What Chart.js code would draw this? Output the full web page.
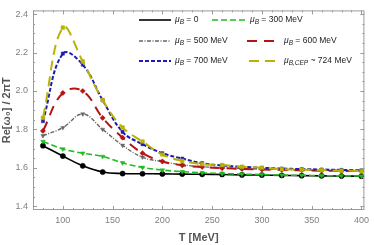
<!DOCTYPE html>
<html><head><meta charset="utf-8">
<script src="https://cdn.jsdelivr.net/npm/chart.js@4.4.1/dist/chart.umd.min.js"></script>
<style>html,body{margin:0;padding:0;background:#fff}#wrap{width:374px;height:245px}</style>
</head><body><div id="wrap"><canvas id="c" width="374" height="245"></canvas></div>
<script>
const temps = [80,100,120,140,160,180,200,220,240,260,280,300,320,340,360,380,400];
const mu0   = [1.715,1.661,1.610,1.578,1.570,1.569,1.568,1.567,1.566,1.565,1.563,1.562,1.560,1.559,1.558,1.557,1.556];
const mu300 = [1.737,1.698,1.676,1.659,1.626,1.602,1.588,1.580,1.574,1.570,1.567,1.565,1.562,1.561,1.559,1.558,1.557];
const mu500 = [1.767,1.809,1.880,1.800,1.717,1.655,1.632,1.615,1.606,1.600,1.596,1.593,1.591,1.589,1.587,1.586,1.585];
const mu600 = [1.792,1.990,2.000,1.860,1.757,1.676,1.633,1.613,1.604,1.598,1.594,1.591,1.589,1.587,1.585,1.584,1.583];
const mu700 = [1.843,2.195,2.137,1.952,1.787,1.723,1.676,1.648,1.624,1.612,1.605,1.600,1.596,1.593,1.591,1.589,1.587];
const muCEP = [1.860,2.330,2.154,1.952,1.810,1.737,1.669,1.636,1.619,1.614,1.605,1.600,1.593,1.590,1.588,1.585,1.583];
const xTicks = [100,150,200,250,300,350,400];
const yTicks = [1.4,1.6,1.8,2.0,2.2,2.4];
const legendLabels = [
  {sub:'B', rest:' = 0'},
  {sub:'B', rest:' = 300 MeV'},
  {sub:'B', rest:' = 500 MeV'},
  {sub:'B', rest:' = 600 MeV'},
  {sub:'B', rest:' = 700 MeV'},
  {sub:'B,CEP', rest:' ~ 724 MeV'}
];

const styles = [
  {color:'#000000', dash:[], width:1.6, pt:'circle', r:2.6},
  {color:'#22bb22', dash:[6,3], width:1.6, pt:'triangle', r:2.6, rot:180},
  {color:'#666666', dash:[4,1.5,1,1.5], width:1.4, pt:'triangle', r:2.4, rot:180},
  {color:'#b51414', dash:[10,7], width:2, pt:'rectRot', r:2.6},
  {color:'#1c1cb4', dash:[4,2], width:2, pt:'rect', r:2.2},
  {color:'#b9b200', dash:[10,6], width:2, pt:'rect', r:2.6}
];
const series = [mu0, mu300, mu500, mu600, mu700, muCEP];

const datasets = series.map((s,i)=>({
  label: 'μB' + legendLabels[i].rest,
  data: temps.map((t,j)=>({x:t, y:s[j]})),
  borderColor: styles[i].color,
  backgroundColor: styles[i].color,
  borderDash: styles[i].dash,
  borderWidth: styles[i].width,
  pointStyle: styles[i].pt,
  pointRotation: styles[i].rot || 0,
  pointRadius: styles[i].r,
  pointBorderWidth: 0.5,
  tension: 0.4,
  fill: false
})).reverse();

const frameTicks = {
  id:'frameTicks',
  afterDraw(chart){
    const {ctx, chartArea:a, scales:{x,y}} = chart;
    ctx.save();
    ctx.strokeStyle = '#9a9a9a';
    ctx.lineWidth = 1;
    ctx.strokeRect(a.left+0.5, a.top+0.5, a.right-a.left-1, a.bottom-a.top-1);
    ctx.beginPath();
    for (let v=70; v<=403; v+=10){
      const px = Math.round(x.getPixelForValue(v))+0.5;
      const L = (v%50===0)?4:2;
      ctx.moveTo(px,a.bottom); ctx.lineTo(px,a.bottom-L);
      ctx.moveTo(px,a.top); ctx.lineTo(px,a.top+L);
    }
    for (let k=28; k<=48; k++){
      const v = k*0.05;
      const py = Math.round(y.getPixelForValue(v))+0.5;
      if (py < a.top || py > a.bottom) continue;
      const L = (k%4===0)?4:2;
      ctx.moveTo(a.left,py); ctx.lineTo(a.left+L,py);
      ctx.moveTo(a.right,py); ctx.lineTo(a.right-L,py);
    }
    ctx.stroke();
    ctx.restore();
  }
};

const legendPos = [
  {x0:139,x1:171,tx:175,y:20},{x0:212,x1:245,tx:250,y:20},
  {x0:139,x1:171,tx:175,y:41},{x0:247,x1:279,tx:284,y:41},
  {x0:139,x1:171,tx:175,y:61},{x0:249,x1:278,tx:284,y:61}
];
const customLegend = {
  id:'customLegend',
  afterDraw(chart){
    const ctx = chart.ctx;
    ctx.save();
    legendLabels.forEach((lab,i)=>{
      const p = legendPos[i], yy = p.y;
      const st = styles[i];
      ctx.strokeStyle = st.color; ctx.lineWidth = st.width; ctx.setLineDash(st.dash);
      ctx.beginPath(); ctx.moveTo(p.x0, yy); ctx.lineTo(p.x1, yy); ctx.stroke();
      ctx.setLineDash([]);
      ctx.fillStyle = '#222';
      ctx.textBaseline = 'middle';
      let tx = p.tx;
      ctx.font = 'italic 8.5px "Liberation Sans", Arial, sans-serif';
      ctx.fillText('μ', tx, yy); tx += ctx.measureText('μ').width;
      ctx.font = 'italic 6.5px "Liberation Sans", Arial, sans-serif';
      ctx.fillText(lab.sub, tx, yy+2.5); tx += ctx.measureText(lab.sub).width;
      ctx.font = '8.5px "Liberation Sans", Arial, sans-serif';
      ctx.fillText(lab.rest, tx, yy);
    });
    ctx.restore();
  }
};

new Chart(document.getElementById('c'), {
  type:'line',
  data:{datasets},
  options:{
    responsive:false, animation:false, devicePixelRatio:1,
    layout:{padding:{top:4,right:8,left:0,bottom:0}},
    plugins:{legend:{display:false}, tooltip:{enabled:false}},
    scales:{
      x:{type:'linear', min:70, max:403,
        afterBuildTicks(s){ s.ticks = xTicks.map(v=>({value:v})); },
        afterFit(s){ s.height = 35; },
        grid:{display:false, drawTicks:false},
        border:{display:false},
        ticks:{color:'#808080', font:{size:9, family:'"Liberation Sans", Arial, sans-serif'}, padding:5, maxRotation:0, autoSkip:false},
        title:{display:true, text:'T [MeV]', color:'#555', font:{size:11, weight:'bold', family:'"Liberation Sans", Arial, sans-serif'}, padding:{top:2,bottom:0}}
      },
      y:{type:'linear', min:1.38, max:2.42,
        afterBuildTicks(s){ s.ticks = yTicks.map(v=>({value:v})); },
        afterFit(s){ s.width = 33; },
        grid:{display:false, drawTicks:false},
        border:{display:false},
        ticks:{color:'#808080', font:{size:9, family:'"Liberation Sans", Arial, sans-serif'}, padding:5, callback:v=>v.toFixed(1)},
        title:{display:true, text:'Re[ω₀] / 2πT', color:'#555', font:{size:11, weight:'bold', family:'"Liberation Sans", Arial, sans-serif'}, padding:{top:0,bottom:0}}
      }
    }
  },
  plugins:[frameTicks, customLegend]
});
</script></body></html>
